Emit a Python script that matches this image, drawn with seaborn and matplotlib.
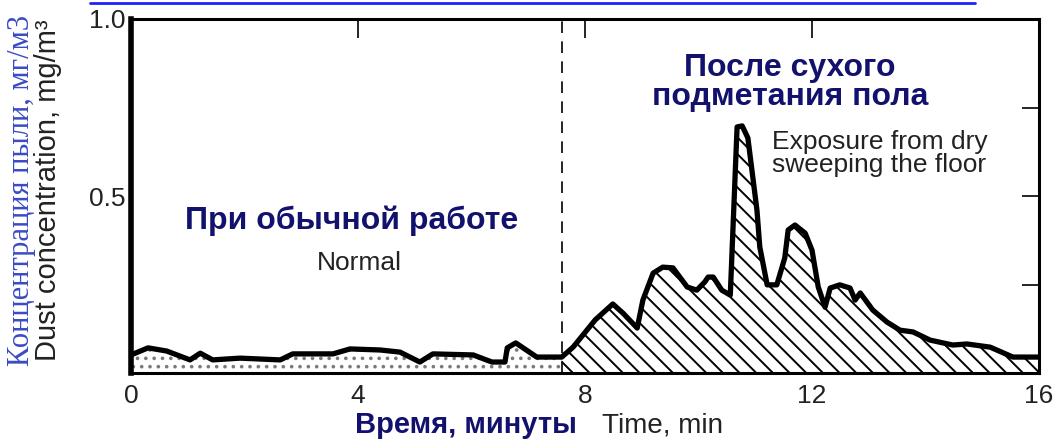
import pandas as pd
import seaborn as sns
import matplotlib.pyplot as plt
from matplotlib.lines import Line2D

# concentration during normal work (time in minutes, mg/m3)
normal_time = [0.0, 0.30, 0.63, 1.04, 1.22, 1.44, 1.92, 2.63, 2.85, 3.56, 3.86,
               4.39, 4.74, 5.09, 5.32, 6.03, 6.36, 6.59, 6.63, 6.78, 7.15, 7.59]
normal_conc = [0.051, 0.071, 0.062, 0.037, 0.056, 0.037, 0.042, 0.037, 0.054, 0.054, 0.068,
               0.065, 0.059, 0.031, 0.054, 0.051, 0.031, 0.031, 0.071, 0.085, 0.045, 0.045]

# concentration after dry sweeping the floor
sweep_time = [7.59, 7.79, 8.18, 8.49, 8.67, 8.92, 9.02, 9.20, 9.37, 9.55, 9.80, 9.97,
              10.11, 10.17, 10.26, 10.41, 10.56, 10.68, 10.77, 10.87, 11.03, 11.08, 11.21,
              11.38, 11.52, 11.58, 11.70, 11.88, 12.00, 12.11, 12.23, 12.32, 12.49, 12.67,
              12.76, 12.85, 13.07, 13.32, 13.55, 13.78, 14.08, 14.48, 14.73, 15.14, 15.54, 16.0]
sweep_conc = [0.045, 0.073, 0.150, 0.195, 0.169, 0.127, 0.206, 0.282, 0.299, 0.297, 0.243, 0.234,
              0.257, 0.271, 0.271, 0.234, 0.220, 0.695, 0.698, 0.664, 0.460, 0.356, 0.249,
              0.249, 0.325, 0.404, 0.418, 0.395, 0.347, 0.243, 0.186, 0.240, 0.249, 0.240,
              0.206, 0.226, 0.178, 0.144, 0.121, 0.116, 0.093, 0.079, 0.082, 0.073, 0.045, 0.045]

sweep_start = 7.59
x_ticks = [0, 4, 8, 12, 16]
y_ticks = [0.25, 0.5, 0.75, 1.0]
y_tick_labels = ['', '0.5', '', '1.0']

navy = '#12126e'

sns.set_style('white')
plt.rcParams['font.family'] = ['Liberation Sans', 'DejaVu Sans']
plt.rcParams['hatch.linewidth'] = 1.4

fig = plt.figure(figsize=(10.59, 4.46), dpi=100)
ax = fig.add_axes([131 / 1059, 1 - 373 / 446, 908 / 1059, 354 / 446])

df = pd.DataFrame({'time': normal_time + sweep_time[1:],
                   'conc': normal_conc + sweep_conc[1:]})

# filled areas under the curve
ax.fill_between(normal_time, normal_conc, 0, facecolor='white', edgecolor='#7a7a7a',
                hatch='..', linewidth=0)
ax.fill_between(sweep_time, sweep_conc, 0, facecolor='white', edgecolor='black',
                hatch='\\\\', linewidth=0)

sns.lineplot(data=df, x='time', y='conc', sort=False, estimator=None,
             color='black', linewidth=3.8, ax=ax)

ax.axvline(sweep_start, color='black', linewidth=1.2, linestyle=(0, (7, 5)))

ax.set_xlim(0, 16)
ax.set_ylim(0, 1.0)
ax.set_xticks(x_ticks)
ax.set_yticks(y_ticks)
ax.set_yticklabels(y_tick_labels)
ax.set_xlabel('')
ax.set_ylabel('')
ax.tick_params(direction='in', top=True, right=True, labelsize=19, colors='black',
               labelcolor='#222222', width=1.2, pad=8)
ax.tick_params(axis='x', length=14)
ax.tick_params(axis='y', length=12, pad=4)

for side in ['top', 'right', 'bottom']:
    ax.spines[side].set_linewidth(2.2)
    ax.spines[side].set_color('black')
ax.spines['left'].set_linewidth(4)
ax.spines['left'].set_color('black')

# annotations
ax.text(3.88, 0.407, 'При обычной работе', ha='center', va='baseline',
        fontsize=23, fontweight='bold', color=navy)
ax.text(4.02, 0.291, 'Normal', ha='center', va='baseline', fontsize=19, color='#222222')
ax.text(11.61, 0.757, 'После сухого\nподметания пола', ha='center', va='baseline',
        multialignment='center', linespacing=0.95,
        fontsize=23, fontweight='bold', color=navy)
ax.text(11.30, 0.568, 'Exposure from dry\nsweeping the floor', ha='left', va='baseline',
        linespacing=0.95, fontsize=19, color='#222222')

# axis titles, russian and english
fig.text(466 / 1059, 1 - 433 / 446, 'Время, минуты', ha='center', va='baseline',
         fontsize=21, fontweight='bold', color=navy)
fig.text(662 / 1059, 1 - 433 / 446, 'Time, min', ha='center', va='baseline',
         fontsize=20, color='#222222')
fig.text(22 / 1059, 1 - 190 / 446, 'Концентрация пыли, мг/м3', rotation=90,
         ha='center', va='center', fontsize=22, color='#3a4bc4',
         family=['Liberation Serif', 'DejaVu Serif'])
fig.text(48 / 1059, 1 - 190 / 446, 'Dust concentration, mg/m³', rotation=90,
         ha='center', va='center', fontsize=21, color='#222222')

# underline of the link at the very top
fig.add_artist(Line2D([90 / 1059, 975 / 1059], [1 - 3 / 446, 1 - 3 / 446],
                      transform=fig.transFigure, color='#1f1fff', linewidth=2))

fig.savefig('out.png', dpi=100, facecolor='white')
